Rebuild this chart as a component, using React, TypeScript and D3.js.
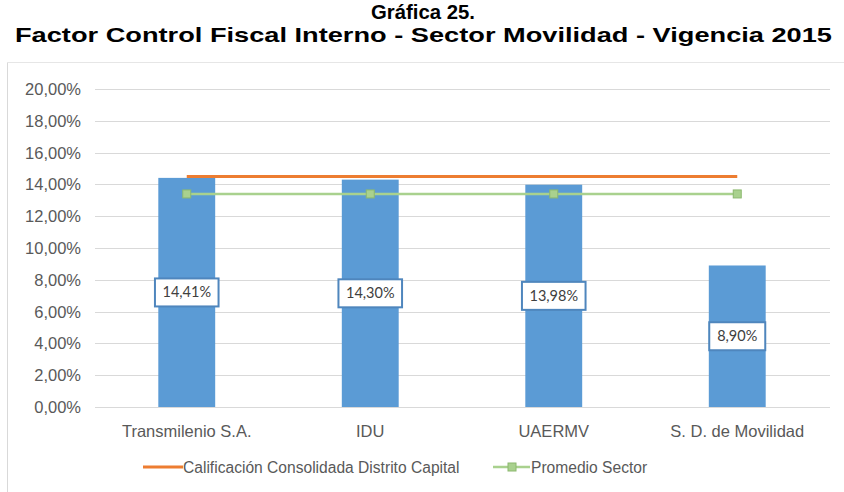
import React from "react";
import * as d3 from "d3";

const categories = ["Transmilenio S.A.", "IDU", "UAERMV", "S. D. de Movilidad"];
const values = [0.1441, 0.143, 0.1398, 0.089];
const valueLabels = ["14,41%", "14,30%", "13,98%", "8,90%"];
const distritoValues = [0.145, 0.145, 0.145, 0.145];
const promedioValues = [0.134, 0.134, 0.134, 0.134];
const yTicks = [0, 0.02, 0.04, 0.06, 0.08, 0.1, 0.12, 0.14, 0.16, 0.18, 0.2];
const titleLines = ["Gráfica 25.", "Factor Control Fiscal Interno - Sector Movilidad - Vigencia 2015"];
const legendLabels = ["Calificación Consolidada Distrito Capital", "Promedio Sector"];

const W = 844;
const H = 492;
const FONT = "'Liberation Sans', Arial, sans-serif";
const LABEL_FONT = "Lato, 'Open Sans', sans-serif";

export default function App() {
  const x = d3
    .scaleBand<string>()
    .domain(categories)
    .range([95, 829])
    .paddingInner(0.69)
    .paddingOuter(0.345);
  const y = d3.scaleLinear().domain([0, 0.2]).range([407, 89]);
  const fmt = (v: number) => d3.format(".2f")(v * 100).replace(".", ",") + "%";
  const cx = (c: string) => (x(c) as number) + x.bandwidth() / 2;

  const line = d3
    .line<number>()
    .x((_, i) => cx(categories[i]))
    .y((d) => y(d));

  return (
    <svg
      width={W}
      height={H}
      style={{ position: "absolute", left: 0, top: 0, background: "#fff" }}
    >
      {/* title */}
      <text x={423} y={18.5} textAnchor="middle" fontFamily={FONT} fontWeight="bold" fontSize={19.5} fill="#000"
        textLength={104} lengthAdjust="spacingAndGlyphs">
        {titleLines[0]}
      </text>
      <text x={423.5} y={42} textAnchor="middle" fontFamily={FONT} fontWeight="bold" fontSize={20.5} fill="#000"
        textLength={817} lengthAdjust="spacingAndGlyphs">
        {titleLines[1]}
      </text>

      {/* frame */}
      <line x1={7.5} x2={7.5} y1={62} y2={H} stroke="#d9d9d9" />
      <line x1={7} x2={W} y1={62.5} y2={62.5} stroke="#e6e6e6" />

      {/* grid + y labels */}
      {yTicks.map((t) => (
        <g key={t}>
          <line x1={95} x2={830} y1={Math.round(y(t)) + 0.5} y2={Math.round(y(t)) + 0.5} stroke="#d9d9d9" />
          <text x={81} y={y(t) + 6} textAnchor="end" fontFamily={FONT} fontSize={16.5} fill="#595959">
            {fmt(t)}
          </text>
        </g>
      ))}

      {/* bars */}
      {categories.map((c, i) => (
        <rect key={c} x={x(c)} y={y(values[i])} width={x.bandwidth()} height={y(0) - y(values[i])} fill="#5b9bd5" />
      ))}

      {/* lines */}
      <path d={line(distritoValues) || ""} fill="none" stroke="#ed7d31" strokeWidth={3} />
      <path d={line(promedioValues) || ""} fill="none" stroke="#a9d18e" strokeWidth={2.5} />
      {promedioValues.map((v, i) => (
        <rect key={i} x={cx(categories[i]) - 4} y={y(v) - 4} width={8} height={8} fill="#a9d18e" stroke="#8cb86f" strokeWidth={1} />
      ))}

      {/* data labels */}
      {categories.map((c, i) => {
        const w = valueLabels[i].length * 7.6 + 18;
        const yc = y(values[i] / 2);
        return (
          <g key={c}>
            <rect x={cx(c) - w / 2} y={yc - 14} width={w} height={28} fill="#fff" stroke="#4f86bd" strokeWidth={2} />
            <text x={cx(c)} y={yc + 5} textAnchor="middle" fontFamily={LABEL_FONT} fontSize={14.5} fill="#404040">
              {valueLabels[i]}
            </text>
          </g>
        );
      })}

      {/* x labels */}
      {categories.map((c) => (
        <text key={c} x={cx(c)} y={437} textAnchor="middle" fontFamily={FONT} fontSize={16.5} fill="#595959">
          {c}
        </text>
      ))}

      {/* legend */}
      <line x1={143} x2={183} y1={467} y2={467} stroke="#ed7d31" strokeWidth={3} />
      <text x={183} y={473} fontFamily={FONT} fontSize={15.6} fill="#595959">
        {legendLabels[0]}
      </text>
      <line x1={493} x2={530} y1={467} y2={467} stroke="#a9d18e" strokeWidth={2.5} />
      <rect x={508} y={463} width={8} height={8} fill="#a9d18e" stroke="#8cb86f" strokeWidth={1} />
      <text x={531} y={473} fontFamily={FONT} fontSize={15.6} fill="#595959">
        {legendLabels[1]}
      </text>
    </svg>
  );
}
